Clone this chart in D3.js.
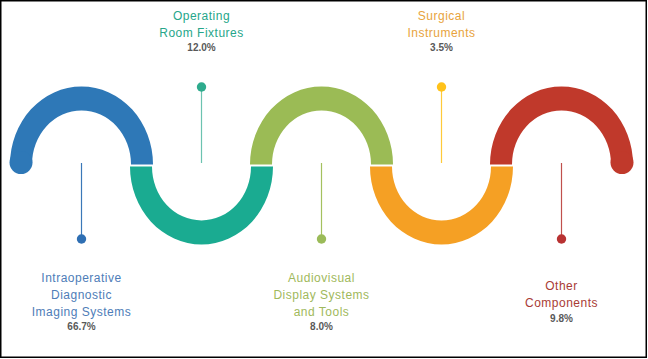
<!DOCTYPE html>
<html>
<head>
<meta charset="utf-8">
<script src="https://cdn.jsdelivr.net/npm/d3@7"></script>
<style>
  body { margin: 0; background: #fff; }
  svg { display: block; }
</style>
</head>
<body>
<div id="waveChart"></div>
<script>
// segment data, left to right along the wave
const categories = ["Intraoperative Diagnostic Imaging Systems", "Operating Room Fixtures", "Audiovisual Display Systems and Tools", "Surgical Instruments", "Other Components"];
const labelLines = [["Intraoperative", "Diagnostic", "Imaging Systems"], ["Operating", "Room Fixtures"], ["Audiovisual", "Display Systems", "and Tools"], ["Surgical", "Instruments"], ["Other", "Components"]];
const shares = [66.7, 12.0, 8.0, 3.5, 9.8];

const arcColors = ["#2e78b7", "#1aab91", "#9bbb55", "#f5a024", "#c0392b"];
const dotColors = ["#2f6fb3", "#2eab8d", "#9bbb59", "#ffc21a", "#b83232"];
const stemColors = ["#3b78b8", "#6cc3b0", "#a4c15f", "#ffca3a", "#c0504d"];
const textColors = ["#4e7db8", "#26a68a", "#9fb95c", "#e8a33c", "#a93b35"];

document.addEventListener("DOMContentLoaded", function () {
    let width = 648, height = 359;

    let svg = d3.select("#waveChart")
        .append("svg")
        .attr("width", width)
        .attr("height", height);

    // frame
    svg.append("rect")
        .attr("x", 0.75).attr("y", 0.75)
        .attr("width", 645.5).attr("height", 356.5)
        .attr("fill", "none")
        .attr("stroke", "#000")
        .attr("stroke-width", 1.5);

    let x = d3.scalePoint().domain(categories).range([81.5, 561.5]);

    let rOut = 71.5, rIn = 49.5, ryOut = 78, ryIn = 54;
    let baseTop = 164.5, baseBottom = 166.5;   // 2px white seam between the halves
    let isUp = (d, i) => i % 2 === 0;

    function bandPath(d, i) {
        let cx = x(d);
        let up = isUp(d, i);
        let y0 = up ? baseTop : baseBottom;
        let s = up ? 1 : 0;
        return `M${cx - rOut},${y0} A${rOut},${ryOut} 0 0 ${s} ${cx + rOut},${y0}` +
            ` L${cx + rIn},${y0} A${rIn},${ryIn} 0 0 ${1 - s} ${cx - rIn},${y0} Z`;
    }

    let wave = svg.append("g");

    wave.selectAll(".band")
        .data(categories)
        .enter()
        .append("path")
        .attr("class", "band")
        .attr("d", bandPath)
        .attr("fill", (d, i) => arcColors[i]);

    // rounded caps at both ends of the wave
    let first = categories[0], last = categories[categories.length - 1];
    let capR = (rOut - rIn) / 2;
    wave.append("circle")
        .attr("cx", x(first) - (rOut + rIn) / 2)
        .attr("cy", baseTop - 2)
        .attr("r", capR + 0.5)
        .attr("fill", arcColors[0]);
    wave.append("circle")
        .attr("cx", x(last) + (rOut + rIn) / 2)
        .attr("cy", baseTop - 2)
        .attr("r", capR + 0.5)
        .attr("fill", arcColors[categories.length - 1]);

    // pins
    let dotTop = 87, dotBottom = 239, stemBase = 163;

    let pins = svg.selectAll(".pin")
        .data(categories)
        .enter()
        .append("g")
        .attr("class", "pin");

    pins.append("line")
        .attr("x1", d => x(d)).attr("x2", d => x(d))
        .attr("y1", stemBase)
        .attr("y2", (d, i) => isUp(d, i) ? dotBottom : dotTop)
        .attr("stroke", (d, i) => stemColors[i])
        .attr("stroke-width", 1.2);

    pins.append("circle")
        .attr("cx", d => x(d))
        .attr("cy", (d, i) => isUp(d, i) ? dotBottom : dotTop)
        .attr("r", 4.7)
        .attr("fill", (d, i) => dotColors[i]);

    // labels: top ones hang from the top edge, bottom ones are centred in the lower band
    let lineH = 17, pctGap = 14.5, topStart = 19.5, bottomMid = 306;

    let labels = svg.selectAll(".label")
        .data(categories)
        .enter()
        .append("g")
        .attr("class", "label")
        .attr("transform", (d, i) => {
            let n = labelLines[i].length;
            let span = lineH * (n - 1) + pctGap;
            let y0 = isUp(d, i) ? bottomMid - span / 2 : topStart;
            return `translate(${x(d)},${y0})`;
        });

    labels.each(function (d, i) {
        let g = d3.select(this);
        let lines = labelLines[i];
        g.selectAll("text.name")
            .data(lines)
            .enter()
            .append("text")
            .attr("class", "name")
            .attr("y", (t, k) => k * lineH)
            .attr("text-anchor", "middle")
            .attr("font-family", "Liberation Sans, Arial, sans-serif")
            .attr("font-size", "12px")
            .attr("letter-spacing", "0.5px")
            .attr("fill", textColors[i])
            .text(t => t);
        g.append("text")
            .attr("y", (lines.length - 1) * lineH + pctGap)
            .attr("text-anchor", "middle")
            .attr("font-family", "Liberation Sans, Arial, sans-serif")
            .attr("font-size", "10px")
            .attr("font-weight", "bold")
            .attr("fill", "#595959")
            .text(shares[i].toFixed(1) + "%");
    });
});
</script>
</body>
</html>
